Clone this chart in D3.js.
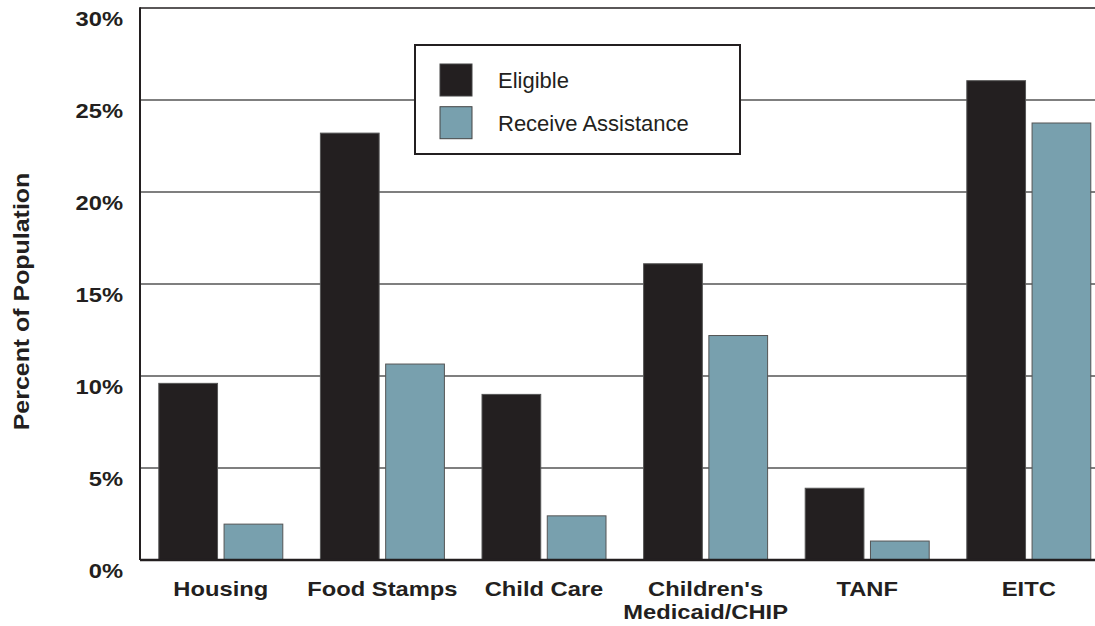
<!DOCTYPE html>
<html>
<head>
<meta charset="utf-8">
<script src="https://cdn.jsdelivr.net/npm/d3@7"></script>
<style>
  html, body { margin: 0; padding: 0; background: #fff; }
  svg { display: block; font-family: "Liberation Sans", Arial, sans-serif; }
</style>
</head>
<body>
<svg id="chart" width="1095" height="626"></svg>
<script>
// Program categories (multi-line labels split on "\n")
const categories = ["Housing", "Food Stamps", "Child Care", "Children's\nMedicaid/CHIP", "TANF", "EITC"];
// Percent of population eligible for each program
const eligible = [9.6, 23.2, 9.0, 16.1, 3.9, 26.05];
// Percent of population receiving assistance
const received = [1.95, 10.65, 2.4, 12.2, 1.03, 23.75];
const seriesNames = ["Eligible", "Receive Assistance"];
const seriesColors = ["#231f20", "#78a0ae"];
const yTicks = [0, 5, 10, 15, 20, 25, 30];

const svg = d3.select("#chart");
const plot = { left: 140, top: 8, bottom: 560, right: 1109.6 };
const ink = "#231f20";
const wide = 1.13; // horizontal stretch of the bold label face

const rows = categories.map((c, i) => ({ cat: c, values: [eligible[i], received[i]] }));

const x0 = d3.scaleBand().domain(categories).range([plot.left, plot.right]).paddingInner(0).paddingOuter(0);
const x1 = d3.scaleBand().domain([0, 1]).range([18.8, x0.bandwidth() - 18.8]).paddingInner(0.1);
const y = d3.scaleLinear().domain([0, 30]).range([plot.bottom, plot.top]);

// Horizontal gridlines
svg.append("g")
  .selectAll("line")
  .data(yTicks.filter(t => t > 0 && t < 30))
  .join("line")
  .attr("x1", plot.left).attr("x2", 1095)
  .attr("y1", d => y(d)).attr("y2", d => y(d))
  .attr("stroke", "#555").attr("stroke-width", 1.5);

// Top border line
svg.append("line")
  .attr("x1", plot.left).attr("x2", 1095)
  .attr("y1", y(30)).attr("y2", y(30))
  .attr("stroke", ink).attr("stroke-width", 1.5);

// Y tick labels
svg.append("g")
  .selectAll("text")
  .data(yTicks)
  .join("text")
  .attr("transform", d => `translate(123,${y(d) + 17.5}) scale(${wide},1)`)
  .attr("text-anchor", "end")
  .attr("font-weight", "bold")
  .attr("font-size", 21)
  .attr("fill", ink)
  .text(d => d + "%");

// Bars
const groups = svg.append("g")
  .selectAll("g")
  .data(rows)
  .join("g")
  .attr("transform", d => `translate(${x0(d.cat)},0)`);

groups.selectAll("rect")
  .data(d => d.values.map((v, k) => ({ v, k })))
  .join("rect")
  .attr("x", d => x1(d.k))
  .attr("width", x1.bandwidth())
  .attr("y", d => y(d.v))
  .attr("height", d => y(0) - y(d.v))
  .attr("fill", d => seriesColors[d.k])
  .attr("stroke", "#555")
  .attr("stroke-width", 1);

// Axis lines
svg.append("line")
  .attr("x1", plot.left).attr("x2", 1095)
  .attr("y1", y(0)).attr("y2", y(0))
  .attr("stroke", ink).attr("stroke-width", 2.5);
svg.append("line")
  .attr("x1", plot.left).attr("x2", plot.left)
  .attr("y1", y(30) - 0.75).attr("y2", y(0))
  .attr("stroke", ink).attr("stroke-width", 2);

// Category labels
const catLabels = svg.append("g")
  .selectAll("text")
  .data(categories)
  .join("text")
  .attr("transform", d => `translate(${x0(d) + x0.bandwidth() / 2},596) scale(${wide},1)`)
  .attr("text-anchor", "middle")
  .attr("font-weight", "bold")
  .attr("font-size", 21)
  .attr("fill", ink);
catLabels.each(function(d) {
  const t = d3.select(this);
  d.split("\n").forEach((ln, i) => {
    t.append("tspan")
      .attr("x", 0)
      .attr("dy", i === 0 ? 0 : 23.3)
      .text(ln);
  });
});

// Y axis title
svg.append("text")
  .attr("transform", `translate(28.5,301.5) rotate(-90) scale(${wide + 0.03},1)`)
  .attr("text-anchor", "middle")
  .attr("font-weight", "bold")
  .attr("font-size", 21.5)
  .attr("fill", ink)
  .text("Percent of Population");

// Legend
const legend = svg.append("g");
legend.append("rect")
  .attr("x", 415).attr("y", 45).attr("width", 325).attr("height", 109)
  .attr("fill", "#fff").attr("stroke", ink).attr("stroke-width", 2);
const items = legend.selectAll("g.item")
  .data(seriesNames)
  .join("g")
  .attr("class", "item")
  .attr("transform", (d, i) => `translate(440,${64 + i * 42.7})`);
items.append("rect")
  .attr("width", 32).attr("height", 32)
  .attr("fill", (d, i) => seriesColors[i])
  .attr("stroke", "#444").attr("stroke-width", 1);
items.append("text")
  .attr("x", 58).attr("y", 24.3)
  .attr("font-size", 22)
  .attr("fill", ink)
  .text(d => d);
</script>
</body>
</html>
